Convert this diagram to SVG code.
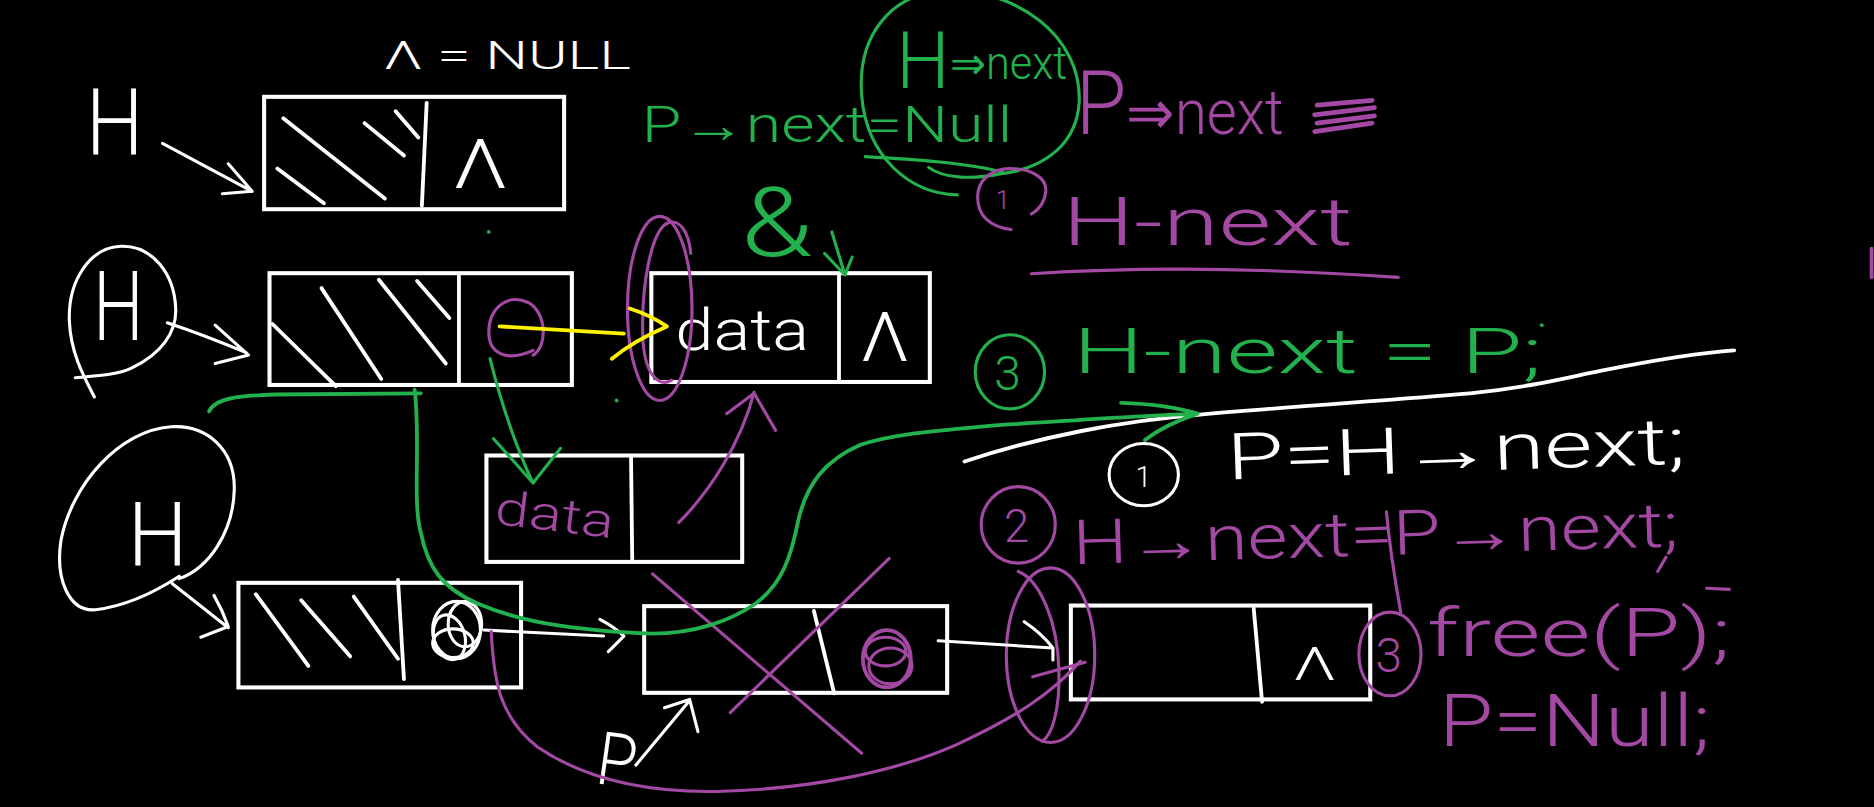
<svg xmlns="http://www.w3.org/2000/svg" width="1874" height="807" viewBox="0 0 1874 807">
<style>
path, line, ellipse, polyline { fill: none; stroke-linecap: round; stroke-linejoin: round; }
.bg { fill: #000000; stroke: none; }
.w { stroke: #ffffff; }
.g { stroke: #22b14c; }
.p { stroke: #a349a4; }
.y { stroke: #fff200; }
.s { stroke-width: 2.6; }
.m { stroke-width: 3.2; }
.box { stroke: #ffffff; stroke-width: 3.4; fill: none; }
.t { font-family: Roboto, "Liberation Sans", "DejaVu Sans", sans-serif; font-weight: 300; }
.tw { fill: #ffffff; }
.tg { fill: #22b14c; }
.tp { fill: #a349a4; }
.dot { stroke: none; }
</style>
<rect class="bg" x="0" y="0" width="1874" height="807"/>
<g transform="scale(1.19515 1.19556)">

  <!-- top note -->
  <g id="note-null">
    <text class="t tw" x="321" y="58" font-size="32" textLength="207" lengthAdjust="spacingAndGlyphs">Λ = NULL</text>
  </g>

  <!-- H label, row 1 -->
  <g id="label-H1">
    <text class="t tw" x="72" y="130" font-size="78" textLength="48" lengthAdjust="spacingAndGlyphs">H</text>
  </g>

  <!-- Row 1 head node -->
  <g id="node-head1">
    <rect class="box" x="221" y="81" width="251" height="94"/>
    <path class="w m" d="M357 86 L353 172"/>
    <path class="w m" d="M237 99 L322 166"/>
    <path class="w m" d="M232 141 L271 170"/>
    <path class="w m" d="M305 103 L338 130"/>
    <path class="w m" d="M331 93 L350 115"/>
    <text class="t tw" x="379" y="157" font-size="58" textLength="46" lengthAdjust="spacingAndGlyphs">Λ</text>
  </g>

  <!-- Row 2: circled H -->
  <g id="label-H2">
    <path class="w s" d="M63 316 C85 314 100 313 110 308 C135 296 148 278 147 258 C146 230 128 205 101 206 C75 207 57 235 58 268 C59 295 70 315 79 332"/>
    <text class="t tw" x="78" y="284" font-size="80" textLength="42" lengthAdjust="spacingAndGlyphs">H</text>
  </g>

  <!-- Row 2 head node -->
  <g id="node-head2">
    <rect class="box" x="225.5" y="228.5" width="253" height="93.5"/>
    <path class="w m" d="M384 230 L384 321"/>
    <path class="w m" d="M228 271 L281 323"/>
    <path class="w m" d="M269 241 L319 317"/>
    <path class="w m" d="M317 234 L373 304"/>
    <path class="w m" d="M349 235 L376 266"/>
    <path class="p s" d="M446 297 C458 290 458 262 442 253 C424 245 409 258 409 278 C409 296 424 303 446 293"/>
  </g>

  <!-- Row 2 data node -->
  <g id="node-data2">
    <rect class="box" x="545" y="228.5" width="233" height="91"/>
    <path class="w m" d="M702 230 L702 319"/>
    <text class="t tw" x="565" y="293" font-size="48" textLength="112" lengthAdjust="spacingAndGlyphs">data</text>
    <text class="t tw" x="720" y="302" font-size="58" textLength="41" lengthAdjust="spacingAndGlyphs">Λ</text>
    <ellipse class="p s" cx="552" cy="258" rx="27" ry="77"/>
    <path class="p s" d="M578 212 C576 192 568 184 560 186 C545 190 536 240 538 285 C540 315 552 324 562 318"/>
  </g>

  <!-- Row 3 middle new node -->
  <g id="node-new">
    <rect class="box" x="407" y="381" width="214" height="89"/>
    <path class="w m" d="M528 382 L529 469"/>
    <text class="t tp" x="413" y="438" font-size="40" textLength="100" lengthAdjust="spacingAndGlyphs" transform="rotate(7 413 438)">data</text>
  </g>

  <!-- Row 3 big circled H -->
  <g id="label-H3">
    <path class="w s" d="M150 484 C175 475 195 445 196 410 C197 375 172 355 143 357 C100 360 60 405 51 452 C46 485 58 512 80 510 C105 507 130 495 150 482"/>
    <text class="t tw" x="107" y="473" font-size="74" textLength="50" lengthAdjust="spacingAndGlyphs">H</text>
  </g>

  <!-- Row 3 head node -->
  <g id="node-head3">
    <rect class="box" x="199.5" y="487.5" width="236.5" height="87.5"/>
    <path class="w m" d="M333 485 L338 568"/>
    <path class="w m" d="M214 497 L258 557"/>
    <path class="w m" d="M252 502 L293 549"/>
    <path class="w m" d="M296 499 L333 551"/>
    <ellipse class="w s" cx="382" cy="527" rx="20" ry="24"/>
    <ellipse class="w s" cx="376" cy="533" rx="13" ry="19" transform="rotate(-15 376 533)"/>
    <ellipse class="w s" cx="389" cy="522" rx="14" ry="19"/>
    <ellipse class="w s" cx="379" cy="538" rx="17" ry="12"/>
  </g>

  <!-- Row 3 deleted node -->
  <g id="node-del">
    <rect class="box" x="539" y="507" width="253.5" height="72.5"/>
    <path class="w m" d="M681 511 L698 580"/>
    <ellipse class="p m" cx="742" cy="551" rx="20" ry="24"/>
    <ellipse class="p s" cx="741" cy="545" rx="17" ry="12"/>
    <ellipse class="p s" cx="745" cy="557" rx="18" ry="15"/>
    <path class="p s" d="M546 480 L721 630"/>
    <path class="p s" d="M744 467 L611 596"/>
  </g>

  <!-- Row 3 last node -->
  <g id="node-last">
    <rect class="box" x="896" y="506.5" width="250.5" height="78.5"/>
    <path class="w m" d="M1049 509 L1056 587"/>
    <text class="t tw" x="1082" y="569" font-size="38" textLength="36" lengthAdjust="spacingAndGlyphs">Λ</text>
    <ellipse class="p s" cx="879" cy="548" rx="37" ry="73"/>
    <path class="p s" d="M852 478 C870 485 885 520 886 560 C887 595 880 615 872 620"/>
  </g>

  <!-- pointer label P -->
  <g id="label-P">
    <text class="t tw" x="497" y="655" font-size="62" textLength="33" lengthAdjust="spacingAndGlyphs" transform="rotate(8 497 655)">P</text>
  </g>

  <!-- green notes top -->
  <g id="note-green-top">
    <text class="t tg" x="537" y="119" font-size="42" textLength="310" lengthAdjust="spacingAndGlyphs">P→next=Null</text>
    <path class="g s" d="M801 163 C760 162 725 130 721 80 C717 30 745 -5 790 -8 C850 -10 905 30 903 85 C901 120 875 140 840 145"/>
    <text class="t tg" x="750" y="74" textLength="143" lengthAdjust="spacingAndGlyphs"><tspan font-size="66">H</tspan><tspan font-size="38" dy="-8">⇒next</tspan></text>
    <path class="g s" d="M724 131 C760 133 810 136 839 144"/>
    <path class="g s" d="M777 140 C790 150 815 150 839 145"/>
    <text class="t tg" x="620" y="214" font-size="80" textLength="60" lengthAdjust="spacingAndGlyphs">&amp;</text>
  </g>

  <!-- purple notes top -->
  <g id="note-purple-top">
    <text class="t tp" x="900" y="112" textLength="174" lengthAdjust="spacingAndGlyphs"><tspan font-size="74">P</tspan><tspan font-size="52">⇒next</tspan></text>
    <path class="p" stroke-width="4" d="M1102 88 L1148 84 M1100 96 L1150 90 M1102 103 L1150 97 M1100 110 L1148 103"/>
    <path class="p s" d="M846 192 C828 190 818 180 818 165 C818 150 830 141 845 141 C862 141 876 148 875 160 C874 170 868 176 863 179"/>
    <text class="t tp" x="833" y="175" font-size="22">1</text>
    <text class="t tp" x="889" y="205" font-size="56" textLength="243" lengthAdjust="spacingAndGlyphs">H-next</text>
    <path class="p s" d="M863 229 Q1000 220 1170 232"/>
    <path class="p m" d="M1566 208 L1566 232"/>
  </g>

  <!-- step 3 green -->
  <g id="step-green">
    <ellipse class="g s" cx="845" cy="311" rx="29" ry="31"/>
    <text class="t tg" x="832" y="326" font-size="40">3</text>
    <text class="t tg" x="898" y="312" font-size="52" textLength="392" lengthAdjust="spacingAndGlyphs">H-next = P;</text>
  </g>

  <!-- divider line -->
  <path class="w m" d="M807 386 C870 365 940 352 1002 347 C1080 340 1160 335 1230 329 C1280 324 1310 316 1340 310 C1380 302 1420 295 1451 293"/>

  <!-- step 1 white -->
  <g id="step-1">
    <ellipse class="w s" cx="957" cy="397" rx="29" ry="26"/>
    <text class="t tw" x="950" y="407" font-size="24">1</text>
    <text class="t tw" x="1027" y="401" font-size="54" textLength="384" lengthAdjust="spacingAndGlyphs" transform="rotate(-2 1027 401)">P=H→next;</text>
  </g>

  <!-- step 2 purple -->
  <g id="step-2">
    <ellipse class="p s" cx="852" cy="439" rx="31" ry="32"/>
    <text class="t tp" x="840" y="453" font-size="38">2</text>
    <text class="t tp" x="898" y="472" font-size="52" textLength="507" lengthAdjust="spacingAndGlyphs" transform="rotate(-1.7 898 472)">H→next=P→next;</text>
    <path class="p s" d="M1394 466 L1387 478"/>
    <path class="p s" d="M1160 428 C1163 460 1168 490 1172 512"/>
  </g>

  <!-- step 3 purple -->
  <g id="step-3">
    <ellipse class="p s" cx="1163" cy="547" rx="26" ry="35"/>
    <text class="t tp" x="1151" y="562" font-size="40">3</text>
    <text class="t tp" x="1194" y="549" font-size="56" textLength="254" lengthAdjust="spacingAndGlyphs">free(P);</text>
    <path class="p s" d="M1428 492 L1447 493"/>
    <text class="t tp" x="1204" y="624" font-size="60" textLength="227" lengthAdjust="spacingAndGlyphs">P=Null;</text>
  </g>

  <!-- connectors -->
  <g id="connectors">
    <path class="w s" d="M136 120 L211 160 M191 137 L211 160 L186 162"/>
    <path class="w s" d="M140 270 Q170 280 206 295 M180 272 L208 297 L180 304"/>
    <path class="w s" d="M144 488 L191 525 M179 498 Q186 510 191 524 L168 533"/>
    <path class="y m" d="M418 273 L522 279 M527 258 Q545 264 558 273 Q530 285 512 300"/>
    <path class="g s" d="M410 300 C420 340 430 370 446 404 M413 367 L446 404 L469 375"/>
    <path class="p s" d="M568 437 C595 410 620 370 631 328 M608 346 L631 329 L649 360"/>
    <path class="g s" d="M696 194 L707 230 M690 212 L707 230 L713 215"/>
    <path class="w s" d="M405 527 L505 532 M502 518 Q515 525 522 532 L509 545"/>
    <path class="w s" d="M785 536 L881 542 M857 520 Q872 530 881 542 L881 552"/>
    <path class="w s" d="M532 640 L577 586 M556 592 L577 585 L584 612"/>
    <path class="p s" d="M411 528 C413 570 418 600 450 625 C490 652 540 663 600 662 C680 660 750 645 800 623 C850 600 880 580 904 553"/>
    <path class="p s" d="M864 566 L908 554"/>
    <path class="g m" d="M175 344 C180 333 200 331 230 330 L352 329"/>
    <path class="g m" d="M347 326 C352 370 345 420 352 445 C358 475 370 492 400 505 C440 522 490 528 546 530 C580 530 610 520 632 505 C655 488 662 465 668 435 C675 405 690 385 720 372 C750 362 790 360 830 356 C890 352 950 348 1002 346 M938 337 Q975 338 1002 346 Q975 355 958 368"/>
  </g>

  <!-- small dots -->
  <circle class="dot" cx="409" cy="194" r="1.6" fill="#22b14c"/>
  <circle class="dot" cx="516" cy="335" r="1.6" fill="#22b14c"/>
  <circle class="dot" cx="1290" cy="272" r="1.6" fill="#22b14c"/>
</g>
</svg>
